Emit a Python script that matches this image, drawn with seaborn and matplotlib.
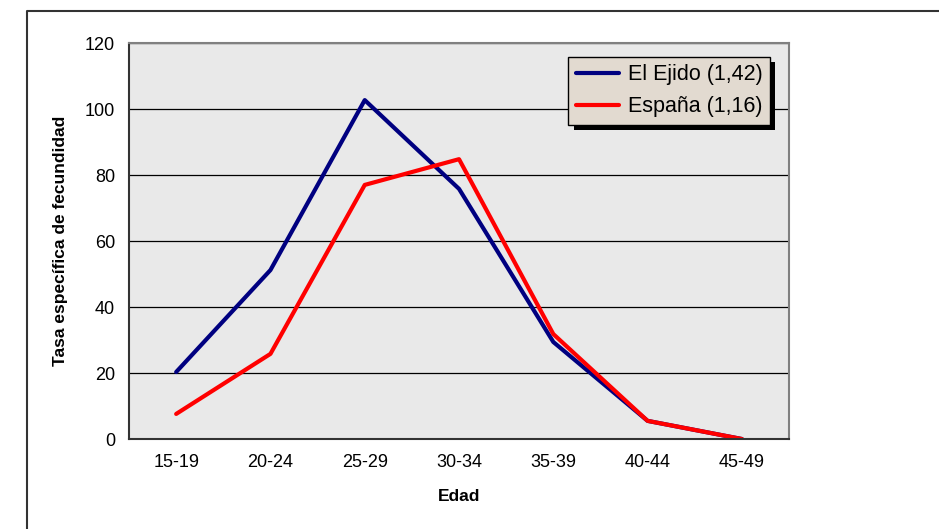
import pandas as pd
import matplotlib.pyplot as plt
import matplotlib.patheffects as pe
import seaborn as sns
from matplotlib.lines import Line2D

# -----------------------------
# DATA
# -----------------------------
edades = ["15-19", "20-24", "25-29", "30-34", "35-39", "40-44", "45-49"]
el_ejido = [20.3, 51.2, 102.7, 75.8, 29.4, 5.5, 0.0]
espana = [7.6, 25.8, 77.0, 84.8, 31.8, 5.5, 0.0]
series_names = ["El Ejido (1,42)", "España (1,16)"]
series_colors = ["#000080", "#ff0000"]

df = pd.DataFrame({
    "Edad": edades * 2,
    "Tasa": el_ejido + espana,
    "Serie": [series_names[0]] * len(edades) + [series_names[1]] * len(edades),
})
df["pos"] = list(range(len(edades))) * 2

# -----------------------------
# STYLE
# -----------------------------
sns.set_style("white")
plt.rcParams["font.family"] = ["Liberation Sans", "DejaVu Sans"]
plt.rcParams["text.color"] = "black"
plt.rcParams["axes.labelcolor"] = "black"
plt.rcParams["xtick.color"] = "black"
plt.rcParams["ytick.color"] = "black"

fig = plt.figure(figsize=(9.39, 5.29), dpi=100)
ax = fig.add_axes([0.1374, 0.1701, 0.7029, 0.7486])
ax.set_facecolor("#e9e9e9")

sns.lineplot(data=df, x="pos", y="Tasa", hue="Serie", palette=series_colors,
             linewidth=3, ax=ax, legend=True, sort=False)

# axes limits and ticks
ax.set_xlim(-0.5, len(edades) - 0.5)
ax.set_ylim(0, 120)
ax.set_yticks(range(0, 121, 20))
ax.set_xticks(range(len(edades)))
ax.set_xticklabels(edades)
ax.set_xticks([i - 0.5 for i in range(len(edades) + 1)], minor=True)
ax.tick_params(axis="x", which="major", length=0, labelsize=13, pad=11)
ax.tick_params(axis="x", which="minor", length=5, width=1, color="black", direction="out")
ax.tick_params(axis="y", length=6, width=1, color="black", direction="out", labelsize=13, pad=4)
ax.yaxis.grid(True, color="black", linewidth=0.9)
ax.set_axisbelow(True)

for side in ["top", "right"]:
    ax.spines[side].set_color("#808080")
    ax.spines[side].set_linewidth(1.5)
for side in ["left", "bottom"]:
    ax.spines[side].set_color("#333333")
    ax.spines[side].set_linewidth(1.5)

ax.set_xlabel("Edad", fontsize=12.5, fontweight="bold", labelpad=13)
ax.set_ylabel("Tasa específica de fecundidad", fontsize=12.5, fontweight="bold", labelpad=12)

# legend
leg = ax.legend(loc="upper right", bbox_to_anchor=(0.971, 0.965), borderaxespad=0,
                fontsize=15.5, frameon=True, fancybox=False, handlelength=2.0,
                handletextpad=0.4, labelspacing=0.5, borderpad=0.35)
frame = leg.get_frame()
frame.set_facecolor("#e2dad0")
frame.set_edgecolor("black")
frame.set_linewidth(1)
frame.set_alpha(1)
frame.set_path_effects([pe.SimplePatchShadow(offset=(4, -4), shadow_rgbFace="black", alpha=1),
                        pe.Normal()])
for line in leg.get_lines():
    line.set_linewidth(3)

# outer chart frame (only left and top edges visible)
fig.add_artist(Line2D([27 / 939, 27 / 939, 1], [0, 1 - 11 / 529, 1 - 11 / 529],
                      transform=fig.transFigure, color="#333333", linewidth=1.5))

plt.savefig("out.png", dpi=100)
